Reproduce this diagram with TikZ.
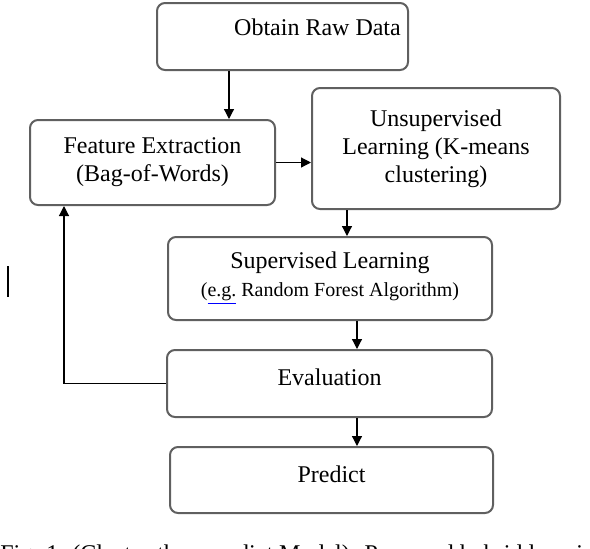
\documentclass[tikz,border=0pt]{standalone}
\usepackage{fontspec}
\setmainfont{Liberation Serif}
\usepackage{xcolor}
\usetikzlibrary{positioning, arrows.meta, calc}

\tikzset{
  stage/.style={draw=gray!75!black, line width=1pt, rounded corners=4pt, align=center, font=\fontsize{12}{14}\selectfont, inner sep=2pt},
  arr/.style={-{Triangle[length=5pt, width=5pt]}, line width=0.6pt, black}
}

\begin{document}
\begin{tikzpicture}[x=0.5pt, y=-0.5pt]
        \useasboundingbox (0,0) rectangle (590,548);

        % Stages
        \node[stage, minimum width=125.5pt, minimum height=33.5pt, text depth=9pt] (raw) at (282.5,36.5) {\hspace*{35pt}Obtain Raw Data};
        \node[stage, minimum width=122.5pt, minimum height=42.5pt] (feat) at (152.5,162.5) {Feature Extraction\\(Bag-of-Words)};
        \node[stage, minimum width=124pt, minimum height=60.5pt] (unsup) at (436,148.5) {Unsupervised\\Learning (K-means\\clustering)};
        \node[stage, minimum width=162pt, minimum height=41.5pt] (sup) at (330,278.5) {Supervised Learning\\{\fontsize{10}{12}\selectfont ({\color{blue}\underline{\color{black}e.g.}} Random Forest Algorithm)}};
        \node[stage, minimum width=162.5pt, minimum height=33.5pt, text depth=6pt] (eval) at (329.5,383.5) {Evaluation};
        \node[stage, minimum width=161.5pt, minimum height=33pt, text depth=6pt] (pred) at (331.5,480) {Predict};

        % Arrows
        \draw[arr] ([xshift=-26.75pt]raw.south) -- ([xshift=-26.75pt]raw.south |- feat.north);
        \draw[arr] (feat.east) -- (feat.east -| unsup.west);
        \draw[arr] ([xshift=-44.5pt]unsup.south) -- ([xshift=-44.5pt]unsup.south |- sup.north);
        \draw[arr] ([xshift=13.5pt]sup.south) -- ([xshift=13.5pt]sup.south |- eval.north);
        \draw[arr] ([xshift=13.75pt]eval.south) -- ([xshift=13.75pt]eval.south |- pred.north);
        \draw[arr] (eval.west) -| ([xshift=-44.25pt]feat.south);

        % stray mark and caption
        \draw[line width=1pt] (8,266) -- (8,297);
        \node[anchor=base west, inner sep=0pt, font=\fontsize{12}{14}\selectfont] (cap) at (0,561) {Fig. 1. (Cluster-then-predict Model): Proposed hybrid learning pipeline};
\end{tikzpicture}
\end{document}
